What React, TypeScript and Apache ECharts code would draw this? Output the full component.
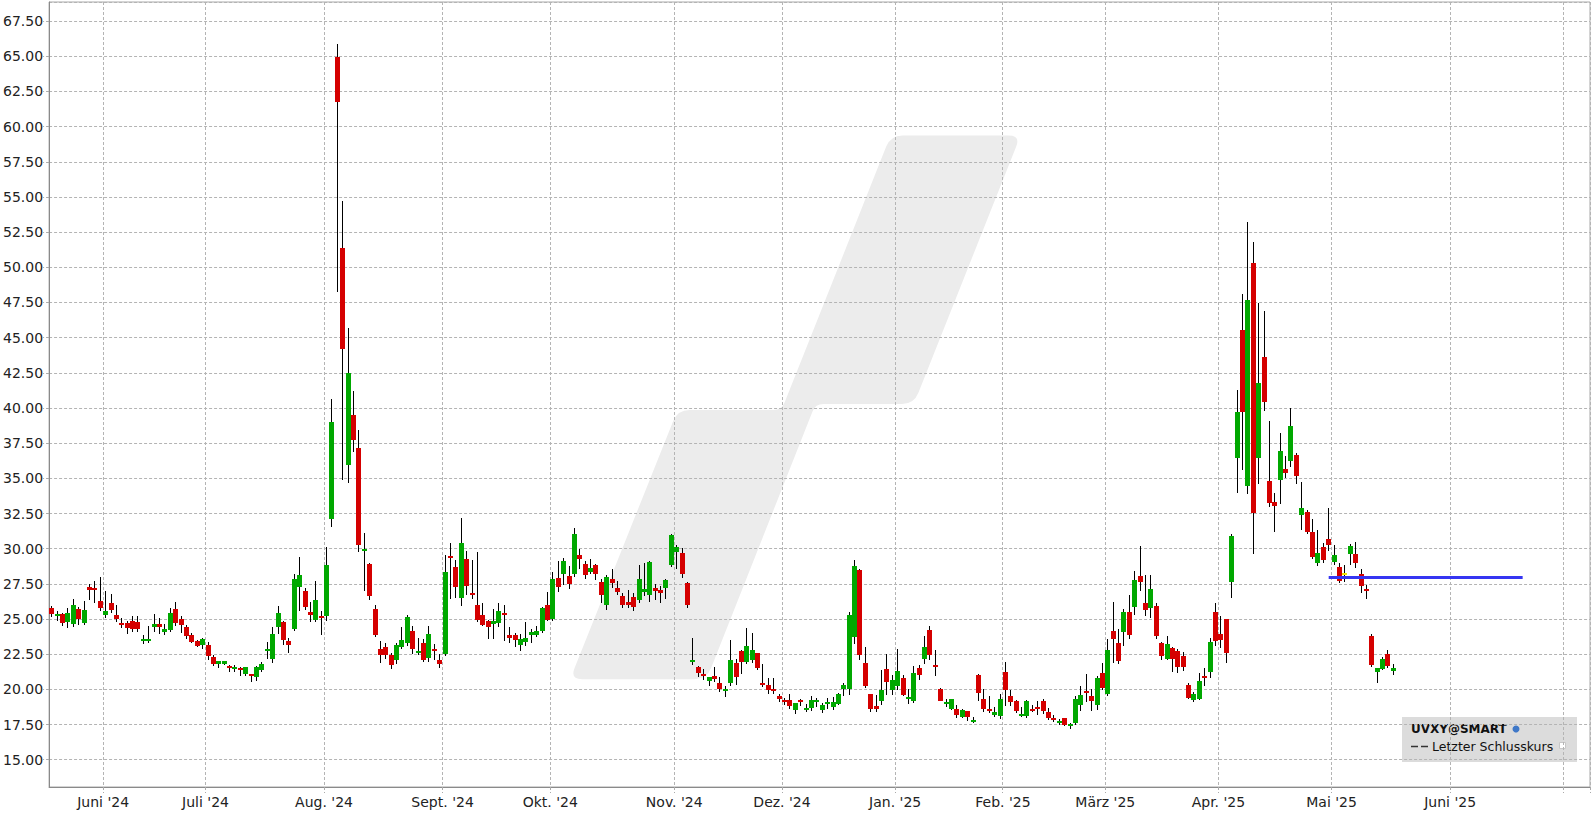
import React, { useEffect, useRef } from "react";
import * as echarts from "echarts";

// ---------- calendar (categories) ----------
const HOLIDAYS = [
  "2024-05-27", "2024-06-19", "2024-07-04", "2024-09-02", "2024-11-28", "2024-12-25",
  "2025-01-01", "2025-01-09", "2025-01-20", "2025-02-17", "2025-04-18",
];
const AXIS_START = [2024, 4, 17];
const AXIS_END = [2025, 6, 7];
const MONTHS = ["Jan.", "Feb.", "März", "Apr.", "Mai", "Juni", "Juli", "Aug.", "Sept.", "Okt.", "Nov.", "Dez."];

function buildDates(): string[] {
  const out: string[] = [];
  const d = new Date(Date.UTC(AXIS_START[0], AXIS_START[1], AXIS_START[2]));
  const end = Date.UTC(AXIS_END[0], AXIS_END[1], AXIS_END[2]);
  while (d.getTime() <= end) {
    const wd = d.getUTCDay();
    const s = d.toISOString().slice(0, 10);
    if (wd !== 0 && wd !== 6 && !HOLIDAYS.includes(s)) out.push(s);
    d.setUTCDate(d.getUTCDate() + 1);
  }
  return out;
}
const dates = buildDates();

// ---------- OHLC values (UVXY@SMART) ----------
const open = [
  25.75, 25.21, 25.33, 24.79, 24.65, 25.68, 24.72, 27.31, 27.17, 26.25,
  25.28, 26.11, 25.26, 24.69, 24.69, 24.83, 24.76, 23.44, 23.44, 24.43,
  24.62, 24.08, 24.22, 25.68, 25.0, 24.41, 23.84, 23.42, 23.16, 23.14,
  22.33, 21.79, 21.82, 21.67, 21.49, 21.53, 21.1, 21.08, 20.9, 21.36,
  22.71, 22.14, 24.44, 24.8, 23.42, 24.28, 27.29, 26.98, 25.49, 24.94,
  25.2, 25.2, 32.1, 64.95, 51.37, 35.95, 39.5, 37.18, 29.92, 28.9,
  25.7, 22.86, 23.0, 22.43, 22.1, 23.02, 23.28, 24.14, 22.64, 23.28,
  22.22, 22.86, 22.12, 22.5, 29.47, 28.68, 26.5, 29.3, 26.88, 25.98,
  25.27, 24.85, 24.66, 24.73, 25.41, 23.85, 23.85, 23.16, 23.38, 23.87,
  23.85, 24.16, 25.98, 24.99, 27.9, 28.19, 28.05, 28.19, 29.54, 28.9,
  28.33, 28.83, 27.62, 25.98, 27.83, 27.19, 26.62, 26.2, 26.55, 26.34,
  26.91, 26.69, 27.19, 27.05, 27.19, 28.85, 29.75, 29.68, 27.55, 21.93,
  21.58, 21.07, 20.62, 20.92, 20.47, 19.86, 20.45, 21.85, 22.7, 21.92,
  22.06, 22.56, 20.43, 20.28, 20.0, 19.5, 19.22, 19.22, 18.53, 19.22,
  18.53, 18.65, 19.08, 18.53, 18.93, 18.72, 18.93, 20.0, 20.0, 23.72,
  28.46, 21.85, 19.64, 18.79, 19.16, 21.48, 19.99, 20.22, 20.84, 19.35,
  19.16, 21.55, 22.19, 24.24, 21.76, 20.06, 18.95, 18.59, 18.64, 18.03,
  18.43, 17.67, 21.05, 19.28, 18.57, 18.17, 18.1, 21.26, 19.56, 19.14,
  18.1, 18.1, 18.64, 18.74, 19.14, 18.36, 17.96, 17.6, 17.93, 17.39,
  17.6, 18.89, 19.86, 19.5, 18.89, 21.14, 19.64, 24.12, 23.27, 24.05,
  25.47, 25.83, 28.03, 26.11, 25.76, 25.9, 23.27, 22.16, 22.91, 22.7,
  22.35, 20.28, 19.22, 19.29, 20.92, 21.21, 25.47, 23.91, 24.98, 27.63,
  36.48, 45.56, 34.49, 50.32, 36.48, 43.64, 34.82, 33.33, 34.85, 35.67,
  36.2, 36.67, 32.36, 32.62, 31.2, 28.99, 30.11, 30.68, 29.04, 28.68,
  28.3, 29.61, 29.61, 28.19, 27.14, 23.78, 21.24, 21.46, 22.5, 21.32,
];
const high = [
  25.9, 25.54, 25.4, 25.8, 26.39, 25.83, 26.25, 27.48, 27.67, 28.02,
  26.96, 26.75, 25.99, 25.09, 24.86, 25.19, 25.19, 23.84, 24.48, 25.33,
  25.05, 24.62, 25.75, 26.18, 25.21, 24.58, 24.0, 23.49, 23.66, 23.35,
  22.45, 22.05, 22.0, 21.72, 21.7, 21.58, 21.6, 21.08, 21.63, 21.91,
  23.38, 24.44, 25.94, 24.87, 23.66, 28.19, 29.4, 27.17, 26.2, 27.69,
  25.58, 30.11, 40.64, 65.88, 54.72, 45.66, 41.21, 38.44, 31.15, 28.97,
  26.03, 23.42, 23.28, 22.57, 23.28, 24.44, 25.3, 24.51, 23.64, 23.61,
  24.49, 23.21, 22.5, 29.54, 30.39, 29.18, 32.17, 29.82, 29.18, 29.73,
  26.13, 24.94, 25.7, 26.17, 26.03, 24.42, 23.99, 23.92, 24.77, 24.28,
  24.51, 25.87, 26.91, 28.31, 29.11, 29.32, 28.8, 31.46, 29.96, 29.11,
  29.25, 28.9, 27.83, 28.12, 28.54, 27.69, 26.84, 27.05, 26.84, 28.83,
  28.97, 29.11, 27.48, 27.33, 27.83, 31.03, 30.25, 30.04, 27.62, 23.64,
  21.67, 21.47, 20.85, 21.56, 20.85, 20.24, 23.48, 22.13, 22.77, 24.34,
  23.98, 22.56, 21.78, 20.81, 20.81, 19.64, 19.36, 19.64, 19.05, 19.29,
  18.93, 19.5, 19.36, 19.05, 19.36, 19.43, 19.71, 20.47, 25.47, 29.17,
  28.53, 22.99, 19.64, 19.57, 21.41, 22.54, 21.05, 22.9, 21.05, 20.06,
  21.69, 21.76, 23.82, 24.53, 22.82, 20.13, 19.28, 19.28, 18.92, 18.57,
  18.43, 18.07, 21.12, 20.06, 19.56, 18.78, 19.7, 21.97, 19.92, 19.21,
  18.78, 19.21, 18.92, 19.14, 19.28, 18.71, 18.17, 17.9, 18.0, 17.6,
  19.56, 20.21, 21.07, 20.05, 20.92, 21.85, 23.55, 26.18, 24.27, 25.69,
  26.68, 28.39, 30.17, 28.1, 28.1, 26.11, 23.34, 23.77, 22.99, 22.84,
  22.63, 20.43, 19.79, 21.14, 21.49, 23.63, 26.11, 25.19, 24.98, 31.02,
  41.29, 48.12, 53.23, 51.81, 47.48, 46.91, 39.09, 33.97, 38.23, 36.6,
  40.01, 36.81, 34.75, 32.76, 32.12, 31.32, 30.39, 32.88, 30.25, 28.97,
  28.83, 30.32, 30.46, 28.54, 27.41, 23.92, 21.5, 22.29, 22.78, 21.79,
];
const low = [
  25.14, 24.88, 24.5, 24.36, 24.43, 24.58, 24.58, 26.34, 26.13, 25.57,
  25.07, 25.42, 24.79, 24.36, 23.94, 24.08, 24.08, 23.23, 23.3, 24.1,
  23.94, 23.87, 24.08, 24.5, 24.0, 23.58, 23.28, 23.0, 22.88, 22.1,
  21.67, 21.53, 21.72, 21.25, 21.25, 20.97, 20.97, 20.5, 20.6, 21.24,
  22.14, 21.86, 23.92, 23.16, 22.57, 24.14, 25.58, 25.65, 24.8, 24.8,
  23.87, 24.85, 31.55, 48.27, 34.88, 34.64, 36.9, 29.77, 27.0, 26.36,
  23.71, 21.86, 22.14, 21.43, 21.79, 22.86, 23.09, 22.5, 22.45, 21.91,
  21.95, 22.1, 21.5, 22.38, 26.41, 26.5, 25.94, 26.69, 26.41, 24.82,
  24.51, 23.57, 23.57, 24.42, 23.45, 23.28, 23.0, 22.74, 23.09, 23.33,
  23.73, 24.0, 24.87, 24.85, 26.91, 27.43, 27.12, 28.0, 28.54, 27.83,
  28.19, 27.76, 26.13, 25.63, 27.24, 26.69, 25.77, 25.77, 25.56, 26.13,
  26.65, 26.22, 26.36, 26.15, 26.41, 28.71, 28.54, 27.9, 25.77, 21.72,
  20.86, 20.64, 20.24, 20.5, 19.81, 19.45, 20.21, 20.28, 21.09, 21.8,
  21.85, 21.37, 20.19, 19.67, 19.67, 19.08, 18.86, 18.58, 18.25, 18.81,
  18.39, 18.46, 18.74, 18.29, 18.58, 18.53, 18.86, 19.53, 19.57, 23.22,
  22.09, 20.09, 18.39, 18.39, 18.88, 19.59, 19.63, 19.99, 19.52, 18.95,
  19.02, 20.7, 21.83, 22.12, 20.93, 19.14, 18.74, 18.52, 17.96, 17.96,
  17.74, 17.6, 19.14, 18.38, 18.31, 18.05, 17.88, 18.81, 18.81, 18.31,
  18.03, 17.96, 18.38, 18.17, 18.24, 17.81, 17.67, 17.46, 17.39, 17.18,
  17.46, 18.46, 19.1, 18.44, 18.51, 19.93, 19.5, 21.85, 21.78, 23.08,
  23.58, 25.26, 26.97, 25.21, 25.05, 23.58, 22.06, 22.09, 21.23, 21.16,
  21.3, 19.29, 19.08, 19.22, 20.21, 20.78, 23.08, 22.91, 21.85, 26.47,
  33.99, 35.56, 33.9, 29.63, 34.63, 39.82, 32.93, 31.22, 33.21, 34.99,
  35.84, 34.63, 31.36, 31.01, 29.28, 28.76, 28.97, 29.82, 28.83, 27.55,
  27.62, 28.83, 28.61, 26.84, 26.41, 21.6, 20.46, 21.39, 21.5, 21.03,
];
const close = [
  25.33, 25.33, 24.72, 25.4, 25.97, 25.0, 25.61, 27.05, 27.05, 25.78,
  25.54, 25.64, 25.0, 24.58, 24.36, 24.29, 24.29, 23.56, 23.56, 24.62,
  24.43, 24.27, 25.4, 24.72, 24.58, 23.8, 23.37, 23.09, 23.56, 22.38,
  21.82, 22.05, 22.0, 21.53, 21.6, 21.42, 21.58, 20.94, 21.58, 21.79,
  22.86, 23.92, 25.41, 23.5, 23.16, 27.83, 28.12, 25.87, 25.27, 26.34,
  25.06, 28.83, 39.0, 61.78, 44.22, 42.46, 37.73, 30.27, 30.01, 26.65,
  23.85, 22.45, 22.45, 21.74, 23.16, 23.5, 25.15, 22.86, 22.76, 22.07,
  23.92, 22.71, 21.79, 28.33, 29.32, 27.29, 30.39, 27.36, 26.72, 24.94,
  24.59, 24.44, 24.85, 25.56, 25.3, 23.66, 23.52, 23.61, 23.64, 24.06,
  24.16, 25.77, 24.92, 27.83, 27.26, 29.11, 27.48, 31.03, 29.25, 28.12,
  28.61, 28.19, 26.69, 27.97, 27.55, 26.91, 25.98, 25.98, 25.84, 27.83,
  27.12, 29.04, 26.98, 26.84, 27.76, 30.96, 30.11, 28.19, 25.98, 22.07,
  21.17, 20.95, 20.85, 20.73, 20.02, 20.0, 22.06, 20.88, 21.94, 23.06,
  22.77, 21.49, 20.28, 19.95, 19.86, 19.31, 19.08, 18.81, 19.0, 19.08,
  18.65, 19.22, 19.22, 18.86, 19.08, 19.08, 19.64, 20.28, 25.26, 28.74,
  22.44, 20.24, 18.63, 18.63, 19.92, 20.51, 20.7, 21.34, 19.59, 19.49,
  21.19, 21.0, 23.04, 22.42, 21.62, 19.16, 19.07, 19.28, 18.17, 18.5,
  18.03, 17.79, 19.73, 18.59, 18.43, 18.36, 19.35, 19.94, 19.09, 18.43,
  18.22, 19.14, 18.45, 18.57, 18.43, 17.96, 17.81, 17.74, 17.46, 17.53,
  19.35, 19.57, 19.72, 19.15, 20.78, 20.07, 22.77, 23.55, 22.01, 25.47,
  23.86, 27.75, 27.63, 25.64, 27.11, 23.79, 22.37, 23.2, 22.16, 21.59,
  21.59, 19.36, 19.64, 20.57, 20.78, 23.34, 23.44, 23.51, 22.58, 30.88,
  39.73, 39.73, 47.69, 32.57, 41.79, 40.46, 33.28, 33.0, 36.95, 35.41,
  38.73, 35.18, 32.9, 31.22, 29.42, 29.68, 29.18, 30.25, 29.54, 27.71,
  28.3, 30.18, 28.97, 27.36, 27.0, 21.74, 21.5, 22.14, 21.67, 21.5,
];

// user-drawn horizontal level (blue)
const LEVEL_VALUE = 27.95;
const LEVEL_FROM = "2025-04-30";
const LEVEL_TO = "2025-06-19";

// y axis range
const Y_MIN = 13.06;
const Y_MAX = 68.86;
const Y_STEP = 2.5;

const GREEN = "#00a800";
const RED = "#d50000";
const DOJI = "#f2e600";

// ---------- month ticks ----------
const gridSet = new Set<number>();
const labelSet = new Set<number>();
dates.forEach((d, i) => {
  if (i === 0) return;
  if (d.slice(0, 7) !== dates[i - 1].slice(0, 7)) {
    gridSet.add(i);
    if (i < dates.length - 10) labelSet.add(i);
  }
});
function monthLabel(d: string): string {
  const m = parseInt(d.slice(5, 7), 10) - 1;
  return `${MONTHS[m]} '${d.slice(2, 4)}`;
}

// ---------- watermark shape ----------
function roundedPath(pts: number[][], r: number[]): string {
  const n = pts.length;
  let d = "";
  for (let i = 0; i < n; i++) {
    const p = pts[i];
    const a = pts[(i - 1 + n) % n];
    const b = pts[(i + 1) % n];
    const la = Math.hypot(a[0] - p[0], a[1] - p[1]);
    const lb = Math.hypot(b[0] - p[0], b[1] - p[1]);
    const ra = Math.min(r[i], la / 2);
    const rb = Math.min(r[i], lb / 2);
    const A = [p[0] + ((a[0] - p[0]) * ra) / la, p[1] + ((a[1] - p[1]) * ra) / la];
    const B = [p[0] + ((b[0] - p[0]) * rb) / lb, p[1] + ((b[1] - p[1]) * rb) / lb];
    d += (i === 0 ? "M" : "L") + A[0].toFixed(1) + " " + A[1].toFixed(1) + " ";
    d += "Q" + p[0].toFixed(1) + " " + p[1].toFixed(1) + " " + B[0].toFixed(1) + " " + B[1].toFixed(1) + " ";
  }
  return d + "Z";
}
const WM_PTS = [
  [570.1, 679.3], [706.7, 679.3], [815.4, 404], [914, 404],
  [1020.6, 135.4], [890.6, 135.4], [781.6, 410], [677.6, 410],
];
const WM_R = [12, 12, 8, 12, 12, 12, 8, 12];
let registered = false;
function ensureShape() {
  if (registered) return;
  registered = true;
  echarts.graphic.registerShape("wmlogo", echarts.graphic.extendPath(roundedPath(WM_PTS, WM_R), {}));
}

export default function App() {
  const ref = useRef<HTMLDivElement>(null);
  useEffect(() => {
    if (!ref.current) return;
    ensureShape();
    const chart = echarts.init(ref.current, null, { renderer: "svg" });
    const candleData = close.map((c, i) => [i, open[i], c, low[i], high[i]]);
    const option: any = {
      animation: false,
      textStyle: { fontFamily: "DejaVu Sans" },
      grid: { left: 49, right: 6, top: 2, bottom: 29, show: true, borderColor: "#a8a8a8", borderWidth: 1 },
      xAxis: {
        type: "category",
        data: dates,
        boundaryGap: true,
        axisLine: { lineStyle: { color: "#8a8a8a" } },
        axisTick: { show: true, interval: (i: number) => gridSet.has(i), length: 6, lineStyle: { color: "#aaaaaa", type: [3, 2] } },
        axisLabel: {
          interval: (i: number) => labelSet.has(i),
          formatter: (v: string) => monthLabel(v),
          fontSize: 14, color: "#222", margin: 8, padding: [0, 5, 0, 0],
        },
        splitLine: { show: true, interval: (i: number) => gridSet.has(i), lineStyle: { color: "#b4b4b4", type: [3, 2], width: 1 } },
      },
      yAxis: {
        type: "value",
        min: Y_MIN, max: Y_MAX,
        minInterval: Y_STEP, maxInterval: Y_STEP,
        axisLine: { show: true, lineStyle: { color: "#8a8a8a" } },
        axisTick: { show: true, length: 6, lineStyle: { color: "#aaaaaa", type: [3, 2] } },
        axisLabel: {
          showMinLabel: false, showMaxLabel: false,
          formatter: (v: number) => v.toFixed(2),
          fontSize: 14, color: "#222", margin: 6,
        },
        splitLine: { show: true, lineStyle: { color: "#b4b4b4", type: [3, 2], width: 1 } },
      },
      series: [
        {
          type: "custom",
          name: "UVXY@SMART",
          data: candleData,
          encode: { x: 0, y: [1, 2, 3, 4] },
          z: 3,
          renderItem: (params: any, api: any) => {
            const i = api.value(0);
            const o = api.value(1), c = api.value(2), l = api.value(3), h = api.value(4);
            const pO = api.coord([i, o]);
            const pC = api.coord([i, c]);
            const pL = api.coord([i, l]);
            const pH = api.coord([i, h]);
            const left = Math.round(pO[0] - 2.5);
            const wx = left + 2.5;
            let top = Math.round(Math.min(pO[1], pC[1]));
            let bot = Math.round(Math.max(pO[1], pC[1]));
            if (bot - top < 2) bot = top + 2;
            const color = c > o ? GREEN : c < o ? RED : DOJI;
            return {
              type: "group",
              children: [
                { type: "line", shape: { x1: wx, y1: Math.round(pH[1]), x2: wx, y2: Math.round(pL[1]) }, style: { stroke: "#000", lineWidth: 1 } },
                { type: "rect", shape: { x: left, y: top, width: 5, height: bot - top }, style: { fill: color } },
              ],
            };
          },
        },
        {
          type: "line",
          name: "Level",
          data: [[LEVEL_FROM, LEVEL_VALUE], [LEVEL_TO, LEVEL_VALUE]],
          symbol: "none",
          lineStyle: { color: "#3535f2", width: 3 },
          z: 5,
          silent: true,
        },
      ],
      graphic: {
        elements: [
          { type: "wmlogo", x: 0, y: 0, z: -10, silent: true, style: { fill: "#ececec" } },
          {
            type: "group", z: 100, silent: true,
            children: [
              { type: "rect", shape: { x: 1402, y: 717, width: 175, height: 45 }, style: { fill: "#dcdcdc" } },
              { type: "text", x: 1411, y: 729, style: { text: "UVXY@SMART", font: "bold 12px 'DejaVu Sans'", fill: "#111", textVerticalAlign: "middle" } },
              { type: "circle", shape: { cx: 1516, cy: 729, r: 3.5 }, style: { fill: "#3f78c8" } },
              { type: "line", shape: { x1: 1411, y1: 746.5, x2: 1418, y2: 746.5 }, style: { stroke: "#333", lineWidth: 1.5 } },
              { type: "line", shape: { x1: 1421, y1: 746.5, x2: 1428, y2: 746.5 }, style: { stroke: "#333", lineWidth: 1.5 } },
              { type: "text", x: 1432, y: 746, style: { text: "Letzter Schlusskurs", font: "12.5px 'DejaVu Sans'", fill: "#111", textVerticalAlign: "middle" } },
              { type: "rect", shape: { x: 1559.5, y: 742.5, width: 6, height: 6 }, style: { fill: "#ffffff", stroke: "#c8c8c8", lineWidth: 1 } },
            ],
          },
        ],
      },
    };
    chart.setOption(option);
    return () => chart.dispose();
  }, []);
  return <div ref={ref} style={{ position: "fixed", left: 0, top: 0, width: 1596, height: 816, background: "#fff" }} />;
}
